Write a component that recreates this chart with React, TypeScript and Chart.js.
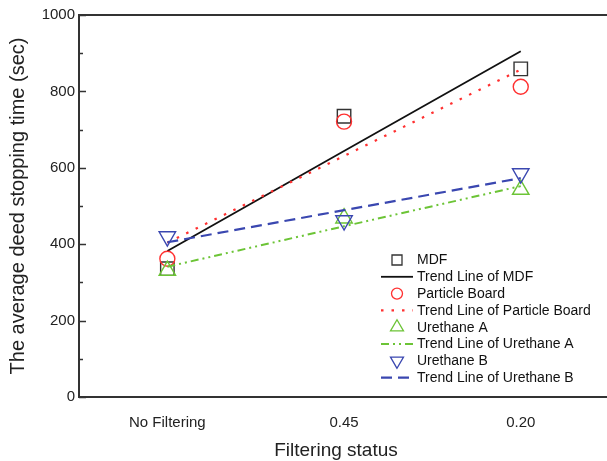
import React, { useEffect, useRef } from 'react';
import { Chart, registerables } from 'chart.js';

Chart.register(...registerables);

const categories = ['No Filtering', '0.45', '0.20'];
const mdf = [336, 735, 859];
const particleBoard = [362, 721, 812];
const urethaneA = [331, 468, 543];
const urethaneB = [420, 462, 585];
const mdfTrend = [382, 644, 905];
const particleBoardTrend = [404, 631, 857];
const urethaneATrend = [341, 447, 552];
const urethaneBTrend = [405, 489, 573];
const yMajorStep = 200;
const yMinorStep = 100;
const xTitle = 'Filtering status';
const yTitle = 'The average deed stopping time (sec)';

const FONT = "'Liberation Sans', Arial, sans-serif";
const BLACK = '#222222';
const RED = '#ff3030';
const GREEN = '#6cc436';
const BLUE = '#3a47b0';

function drawMarker(ctx: CanvasRenderingContext2D, style: string, x: number, y: number, r: number, rot: number) {
  ctx.beginPath();
  if (style === 'rect') {
    ctx.rect(x - r, y - r, 2 * r, 2 * r);
  } else if (style === 'circle') {
    ctx.arc(x, y, r, 0, Math.PI * 2);
  } else if (style === 'triangle') {
    let a = (rot * Math.PI) / 180;
    ctx.moveTo(x + Math.sin(a) * r, y - Math.cos(a) * r);
    a += (2 * Math.PI) / 3;
    ctx.lineTo(x + Math.sin(a) * r, y - Math.cos(a) * r);
    a += (2 * Math.PI) / 3;
    ctx.lineTo(x + Math.sin(a) * r, y - Math.cos(a) * r);
    ctx.closePath();
  }
  ctx.stroke();
}

const framePlugin = {
  id: 'frameAndLegend',
  afterDraw(chart: any) {
    const ctx = chart.ctx as CanvasRenderingContext2D;
    const { left, top, right, bottom } = chart.chartArea;
    const yScale = chart.scales.y;
    ctx.save();
    // top frame line
    ctx.strokeStyle = '#333';
    ctx.lineWidth = 2;
    ctx.beginPath();
    ctx.moveTo(left, top);
    ctx.lineTo(right, top);
    ctx.stroke();
    // inward ticks on y axis
    ctx.lineWidth = 1.5;
    for (let v = yScale.min; v <= yScale.max; v += yMinorStep) {
      const py = Math.round(yScale.getPixelForValue(v)) + 0.5;
      const len = v % yMajorStep === 0 ? 7 : 4;
      ctx.beginPath();
      ctx.moveTo(left, py);
      ctx.lineTo(left + len, py);
      ctx.stroke();
    }
    // x axis title
    ctx.fillStyle = BLACK;
    ctx.font = `19px ${FONT}`;
    ctx.textAlign = 'center';
    ctx.textBaseline = 'middle';
    ctx.fillText(xTitle, left + 257, bottom + 54);
    // legend
    const markerX = left + 318;
    const textX = left + 338;
    const y0 = top + 245;
    const step = 16.8;
    ctx.font = `14px ${FONT}`;
    ctx.textBaseline = 'middle';
    ctx.textAlign = 'left';
    chart.data.datasets.forEach((ds: any, i: number) => {
      const y = y0 + i * step;
      ctx.save();
      if (ds.showLine === false) {
        ctx.strokeStyle = ds.pointBorderColor;
        ctx.lineWidth = 1.3;
        const st = ds.pointStyle;
        const r = st === 'rect' ? 5 : st === 'circle' ? 5.5 : 7.5;
        drawMarker(ctx, st, markerX, y, r, ds.pointRotation || 0);
      } else {
        ctx.strokeStyle = ds.borderColor;
        ctx.lineWidth = ds.borderWidth;
        ctx.setLineDash(ds.borderDash || []);
        ctx.beginPath();
        ctx.moveTo(markerX - 16, y);
        ctx.lineTo(markerX + 16, y);
        ctx.stroke();
      }
      ctx.restore();
      ctx.fillStyle = '#111';
      ctx.fillText(ds.label, textX, y + 0.5);
    });
    ctx.restore();
  },
};

function pointSet(label: string, data: number[], color: string, style: string, radius: number, order: number, rotation = 0) {
  return {
    label,
    data,
    order,
    showLine: false,
    pointStyle: style,
    pointRadius: radius,
    pointRotation: rotation,
    pointBorderWidth: 1.4,
    pointBorderColor: color,
    pointBackgroundColor: 'rgba(0,0,0,0)',
    borderColor: color,
    backgroundColor: 'rgba(0,0,0,0)',
  };
}

function trendSet(label: string, data: number[], color: string, dash: number[], width: number, order: number) {
  return {
    label,
    data,
    order,
    showLine: true,
    borderColor: color,
    borderWidth: width,
    borderDash: dash,
    pointRadius: 0,
    fill: false,
    tension: 0,
  };
}

export default function App() {
  const ref = useRef<HTMLCanvasElement>(null);
  useEffect(() => {
    const chart = new Chart(ref.current as HTMLCanvasElement, {
      type: 'line',
      data: {
        labels: categories,
        datasets: [
          pointSet('MDF', mdf, '#333333', 'rect', 9.5, 7),
          trendSet('Trend Line of MDF', mdfTrend, '#111111', [], 1.8, 6),
          pointSet('Particle Board', particleBoard, RED, 'circle', 7.5, 5),
          trendSet('Trend Line of Particle Board', particleBoardTrend, RED, [2.5, 8], 2.2, 4),
          pointSet('Urethane A', urethaneA, GREEN, 'triangle', 9.5, 3),
          trendSet('Trend Line of Urethane A', urethaneATrend, GREEN, [8, 4, 2, 4, 2, 4], 2, 2),
          pointSet('Urethane B', urethaneB, BLUE, 'triangle', 9.5, 1, 180),
          trendSet('Trend Line of Urethane B', urethaneBTrend, BLUE, [11, 6], 2.2, 0),
        ] as any,
      },
      options: {
        responsive: false,
        animation: false,
        devicePixelRatio: 1,
        layout: { padding: { top: 15, left: 0, right: 0, bottom: 0 } },
        plugins: {
          legend: { display: false },
          tooltip: { enabled: false },
        },
        scales: {
          x: {
            type: 'category',
            offset: true,
            grid: { display: false, drawTicks: false },
            border: { display: true, color: '#333', width: 2 },
            ticks: { color: BLACK, font: { family: FONT, size: 15 }, padding: 17 },
            title: { display: false },
            afterFit: (s: any) => {
              s.height = 64;
              s.paddingLeft = 0;
              s.paddingRight = 0;
            },
          },
          y: {
            min: 0,
            max: 1000,
            grid: { display: false, drawTicks: false },
            border: { display: true, color: '#333', width: 2 },
            ticks: {
              stepSize: yMinorStep,
              color: BLACK,
              font: { family: FONT, size: 15 },
              padding: 4,
              autoSkip: false,
              callback: (v: any) => (Number(v) % yMajorStep === 0 ? String(v) : ''),
            },
            title: {
              display: true,
              text: yTitle,
              color: BLACK,
              font: { family: FONT, size: 20, lineHeight: 1 },
              padding: { top: 8, bottom: 0 },
            },
            afterFit: (s: any) => {
              s.width = 79;
            },
          },
        },
      } as any,
      plugins: [framePlugin],
    });
    return () => chart.destroy();
  }, []);
  return (
    <div style={{ position: 'fixed', left: 0, top: 0, width: 607, height: 461, overflow: 'hidden', background: '#fff' }}>
      <canvas ref={ref} width={620} height={461} style={{ display: 'block', width: 620, height: 461 }} />
    </div>
  );
}
